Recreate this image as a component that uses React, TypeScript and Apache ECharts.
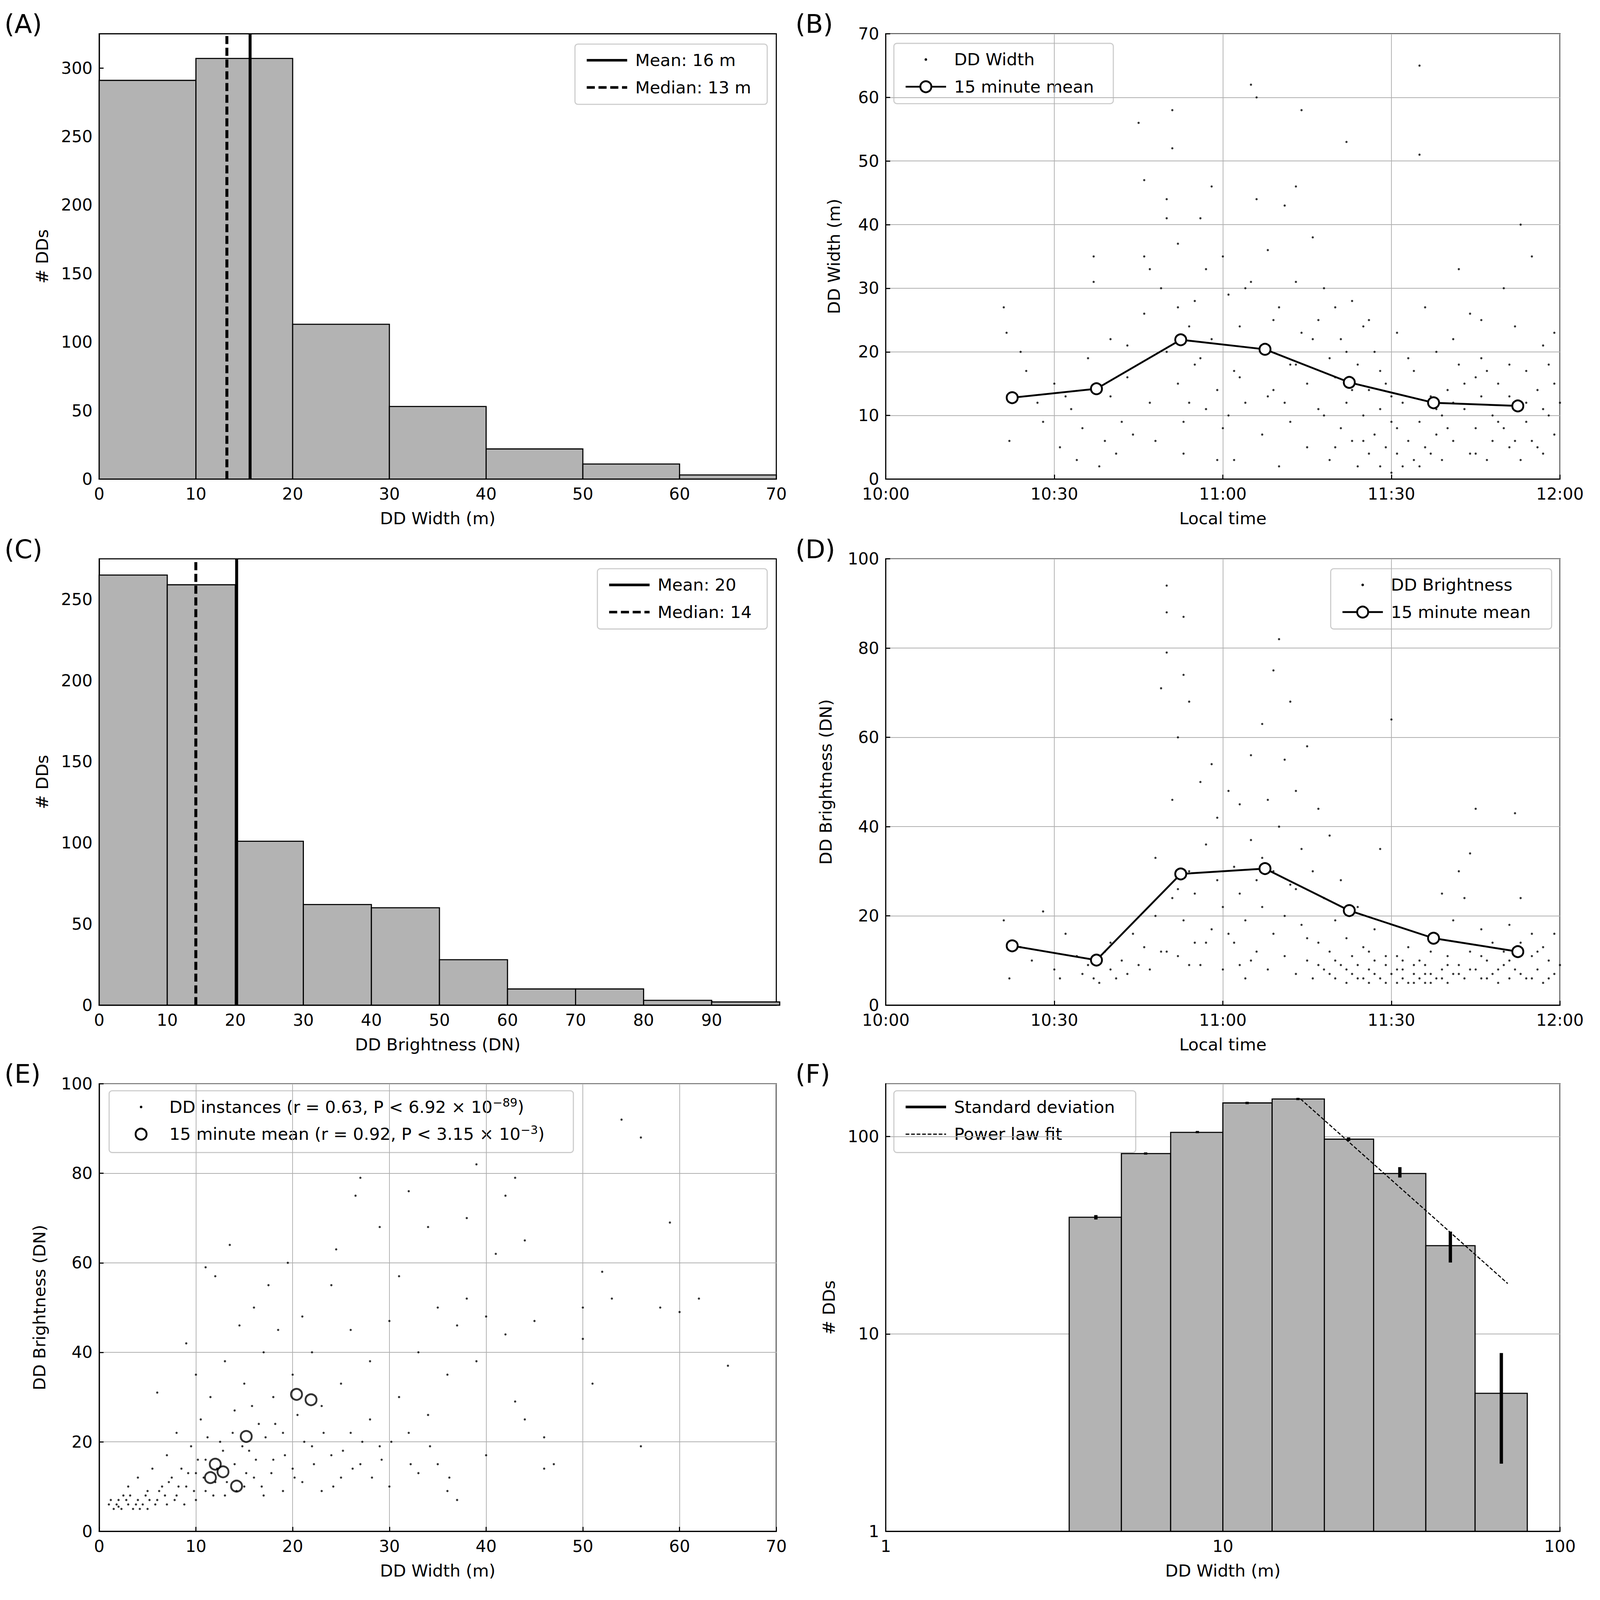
import React, { useEffect, useRef } from 'react';
import * as echarts from 'echarts';

// ---- data ----
const widthBins = [0, 10, 20, 30, 40, 50, 60, 70];
const widthCounts = [291, 307, 113, 53, 22, 11, 3];
const widthMean = 15.6;
const widthMedian = 13.2;

const brightBins = [0, 10, 20, 30, 40, 50, 60, 70, 80, 90, 100];
const brightCounts = [265, 259, 101, 62, 60, 28, 10, 10, 3, 2];
const brightMean = 20.2;
const brightMedian = 14.2;

const meanMinutes = [22.5, 37.5, 52.5, 67.5, 82.5, 97.5, 112.5];
const meanWidth = [12.8, 14.2, 21.9, 20.4, 15.2, 12.0, 11.5];
const meanBright = [13.3, 10.1, 29.4, 30.6, 21.2, 15.0, 12.0];

const widthPoints = [[21,27],[21.5,23],[22,6],[24,20],[25,17],[27,12],[28,9],[30,15],[31,5],[32,13],[33,11],[34,3],[35,8],[36,19],[37,35],[37,31],[38,2],[39,6],[40,13],[40,22],[41,4],[42,9],[43,16],[43,21],[44,7],[45,56],[46,47],[46,26],[47,33],[47,12],[48,6],[49,30],[50,44],[50,41],[50,20],[51,58],[51,52],[52,37],[52,15],[53,9],[53,4],[54,24],[55,28],[55,18],[56,41],[57,11],[57,33],[58,46],[58,22],[59,14],[60,35],[60,8],[61,29],[62,17],[62,3],[63,24],[64,12],[65,31],[65,62],[66,60],[66,44],[67,20],[67,7],[68,36],[69,14],[70,27],[70,2],[71,43],[72,18],[72,9],[73,46],[73,31],[74,58],[74,23],[75,15],[75,5],[76,38],[77,25],[77,11],[78,30],[79,19],[79,3],[80,27],[80,16],[81,8],[81,22],[82,12],[82,53],[83,6],[83,28],[84,18],[84,2],[85,10],[85,24],[86,14],[86,4],[87,20],[87,7],[88,11],[88,2],[89,15],[89,5],[90,9],[90,1],[91,23],[91,4],[92,12],[92,2],[93,6],[94,3],[94,17],[95,9],[95,51],[95,65],[96,5],[96,27],[97,13],[98,7],[98,20],[99,3],[99,10],[100,14],[101,6],[101,22],[102,18],[102,33],[103,11],[104,4],[104,26],[105,16],[105,8],[106,13],[106,19],[107,3],[108,10],[108,6],[109,15],[110,30],[110,8],[111,18],[111,5],[112,12],[112,24],[113,40],[113,3],[114,17],[114,9],[115,35],[115,6],[116,14],[117,21],[117,4],[118,10],[118,18],[119,7],[119,23],[120,12],[46,35],[52,27],[54,12],[56,19],[59,3],[61,10],[63,16],[64,30],[68,13],[69,25],[71,12],[73,18],[76,22],[78,10],[80,5],[82,20],[83,14],[85,6],[86,25],[88,17],[90,13],[91,8],[93,19],[95,2],[97,4],[98,11],[100,8],[101,12],[103,15],[105,4],[106,25],[107,17],[109,9],[111,13],[112,6],[114,12],[116,5],[117,11],[119,15]];

const brightPoints = [[21,19],[22,6],[24,13],[26,10],[28,21],[30,8],[31,6],[32,16],[34,11],[35,7],[36,9],[37,6],[38,5],[39,12],[40,8],[40,14],[41,6],[42,10],[43,7],[44,16],[45,9],[46,13],[47,8],[48,20],[48,33],[49,12],[49,71],[50,94],[50,88],[50,79],[51,46],[51,24],[52,11],[52,60],[53,74],[53,87],[53,19],[54,30],[54,68],[55,14],[55,25],[56,50],[56,9],[57,36],[58,54],[58,17],[59,42],[60,22],[60,8],[61,48],[62,14],[62,31],[63,9],[63,45],[64,19],[64,6],[65,37],[65,56],[66,28],[66,12],[67,63],[67,22],[68,46],[68,8],[69,75],[69,16],[70,82],[70,40],[71,55],[71,11],[72,68],[72,27],[73,48],[73,7],[74,35],[74,18],[75,58],[75,10],[76,30],[76,6],[77,44],[77,14],[78,24],[78,8],[79,38],[79,12],[80,19],[80,6],[81,28],[81,9],[82,15],[82,5],[83,11],[83,7],[84,22],[84,9],[85,6],[85,13],[86,8],[86,5],[87,10],[87,17],[88,6],[88,35],[89,9],[89,5],[90,7],[90,64],[91,11],[91,5],[92,6],[92,8],[93,5],[93,13],[94,7],[94,5],[95,10],[95,6],[96,5],[96,9],[97,7],[97,12],[98,6],[98,15],[99,8],[99,25],[100,11],[100,5],[101,19],[101,7],[102,30],[102,9],[103,24],[103,6],[104,12],[104,34],[105,8],[105,44],[106,17],[106,6],[107,10],[108,7],[108,14],[109,5],[110,9],[110,12],[111,18],[111,6],[112,43],[112,8],[113,14],[113,24],[114,6],[115,11],[115,16],[116,8],[117,13],[117,5],[118,10],[119,7],[119,16],[120,9],[50,12],[52,26],[54,9],[57,14],[59,28],[61,16],[63,25],[65,10],[67,33],[69,30],[71,20],[73,26],[75,15],[77,9],[79,7],[80,10],[82,8],[84,6],[86,12],[87,7],[89,11],[91,8],[92,10],[94,9],[96,7],[97,5],[99,6],[100,9],[102,7],[104,8],[106,11],[107,6],[109,8],[111,10],[113,7],[115,6],[116,12],[118,6]];

const instancePoints = [[1,6],[1.5,5],[2,7],[2,5.5],[2.5,8],[3,6],[3,10],[3.5,5],[4,7],[4,12],[4.5,6],[5,9],[5,5],[5.5,14],[6,7],[6,31],[6.5,10],[7,6],[7,17],[7.5,12],[8,8],[8,22],[8.5,14],[9,10],[9,42],[9.5,19],[10,7],[10,13],[10,35],[10.5,25],[11,9],[11,59],[11,16],[11.5,30],[12,11],[12,57],[12.5,20],[13,8],[13,38],[13.5,64],[14,15],[14,27],[14.5,46],[15,10],[15,33],[15.5,18],[16,50],[16,12],[16.5,24],[17,40],[17,8],[17.5,55],[18,16],[18,30],[18.5,45],[19,22],[19,9],[19.5,60],[20,35],[20,14],[20.5,26],[21,48],[21,11],[22,19],[22,40],[23,28],[23,9],[24,55],[24,17],[24.5,63],[25,33],[25,12],[26,45],[26,22],[26.5,75],[27,79],[27,15],[28,38],[28,25],[29,68],[29,19],[30,47],[30,10],[31,57],[31,30],[32,22],[32,76],[33,40],[33,13],[34,68],[34,26],[35,50],[35,15],[36,35],[36,9],[37,46],[37,7],[38,52],[38,70],[39,38],[39,82],[40,48],[40,17],[41,62],[42,75],[42,44],[43,79],[43,29],[44,65],[44,25],[45,47],[46,21],[46,14],[47,15],[50,43],[50,50],[51,33],[52,58],[53,52],[54,92],[56,19],[56,88],[58,50],[59,69],[60,49],[62,52],[65,37],[1.2,7],[1.8,6],[2.3,5],[2.8,7],[3.2,8],[3.8,6],[4.2,5],[4.8,8],[5.2,7],[5.8,6],[6.2,9],[6.8,8],[7.2,11],[7.8,7],[8.2,10],[8.8,6],[9.2,13],[9.8,9],[10.2,16],[10.8,12],[11.2,21],[11.8,8],[12.2,14],[12.8,18],[13.2,11],[13.8,22],[14.2,9],[14.8,19],[15.2,13],[15.8,28],[16.2,16],[16.8,10],[17.2,21],[17.8,13],[18.2,24],[19.2,17],[20.2,12],[21.2,20],[22.2,15],[23.2,22],[24.2,10],[25.2,18],[26.2,14],[27.2,20],[28.2,12],[29.2,16],[30.2,20],[32.2,15],[34.2,19],[36.2,12]];

const logBins = [3.5, 5, 7, 10, 14, 20, 28, 40, 56, 80];
const logCounts = [39, 82, 105, 148, 155, 97, 65, 28, 5];
const errCenters = [4.2, 5.9, 8.4, 11.8, 16.7, 23.6, 33.5, 47.3, 67];
const errLow = [38, 81, 104, 146, 153, 95, 62, 23, 2.2];
const errHigh = [40, 83, 106, 150, 157, 99, 70, 33, 8];
const fitLine = [[17, 155], [70, 18]];

const FONT = 'DejaVu Sans';

const gridsRef = [
  { left: 270, top: 92, width: 1843, height: 1212 },
  { left: 2411, top: 92, width: 1835, height: 1212 },
  { left: 270, top: 1521, width: 1843, height: 1215 },
  { left: 2411, top: 1521, width: 1835, height: 1215 },
  { left: 270, top: 2950, width: 1843, height: 1218 },
  { left: 2411, top: 2950, width: 1835, height: 1218 },
];

const pad = (n: number) => (n < 10 ? '0' + n : '' + n);
const timeFmt = (v: number) => `${10 + Math.floor(v / 60)}:${pad(v % 60)}`;

export default function App() {
  const ref = useRef<HTMLDivElement | null>(null);

  useEffect(() => {
    if (!ref.current) return;
    const el = ref.current;
    const s = Math.min(el.clientWidth / 4338, el.clientHeight / 4355);
    const chart = echarts.init(el, null, { renderer: 'svg' });

    const TICK = 45 * s;
    const NAME = 46 * s;
    const labelStyle = (extra: any = {}) => ({ fontFamily: FONT, fontSize: TICK, color: '#000', margin: 18 * s, ...extra });

    const axis = (idx: number, extra: any, name: string, showGrid: boolean, isX: boolean, gap?: number) => ({
      gridIndex: idx,
      type: 'value',
      name,
      nameLocation: 'middle',
      nameGap: (gap ?? (isX ? 84 : 118)) * s,
      nameTextStyle: { fontFamily: FONT, fontSize: NAME, color: '#000' },
      axisLine: { show: true, lineStyle: { color: '#000', width: 3 * s } },
      axisTick: { show: true, inside: true, length: 12 * s, lineStyle: { color: '#000', width: 3 * s } },
      axisLabel: labelStyle(),
      splitLine: { show: showGrid, lineStyle: { color: '#b0b0b0', width: 2 * s } },
      ...extra,
    });

    const histSeries = (idx: number, bins: number[], counts: number[]) => ({
      type: 'custom',
      xAxisIndex: idx,
      yAxisIndex: idx,
      data: counts.map((c, i) => [bins[i], bins[i + 1], c]),
      renderItem: (params: any, api: any) => {
        const p0 = api.coord([api.value(0), api.value(2)]);
        const base = api.coord([api.value(0), idx === 5 ? 1 : 0]);
        const p1 = api.coord([api.value(1), api.value(2)]);
        return {
          type: 'rect',
          shape: { x: p0[0], y: p0[1], width: p1[0] - p0[0], height: base[1] - p0[1] },
          style: { fill: '#b3b3b3', stroke: '#000', lineWidth: 3 * s },
        };
      },
      z: 2,
    });

    const vline = (idx: number, x: number, top: number, dashed: boolean) => ({
      type: 'line',
      xAxisIndex: idx,
      yAxisIndex: idx,
      data: [[x, 0], [x, top]],
      symbol: 'none',
      lineStyle: { color: '#000', width: 8 * s, type: dashed ? [22 * s, 10 * s] : 'solid' },
      z: 5,
    });

    // legend drawn in reference pixel units, scaled by s through the group
    const legendBox = (x: number, y: number, w: number, h: number, rows: any[]) => {
      const children: any[] = [
        { type: 'rect', shape: { x: 0, y: 0, width: w, height: h, r: 8 }, style: { fill: '#fff', stroke: '#cccccc', lineWidth: 3 } },
      ];
      rows.forEach((r, i) => {
        const cy = 44 + i * 74;
        if (r.kind === 'line' || r.kind === 'dash' || r.kind === 'thin') {
          children.push({
            type: 'line',
            shape: { x1: 32, y1: cy, x2: 142, y2: cy },
            style: {
              stroke: '#000',
              lineWidth: r.kind === 'thin' ? 3 : 7,
              lineDash: r.kind === 'dash' ? [22, 10] : r.kind === 'thin' ? [10, 5] : null,
            },
          });
        } else if (r.kind === 'lineCircle') {
          children.push({ type: 'line', shape: { x1: 32, y1: cy, x2: 142, y2: cy }, style: { stroke: '#000', lineWidth: 5 } });
          children.push({ type: 'circle', shape: { cx: 87, cy, r: 15 }, style: { fill: '#fff', stroke: '#000', lineWidth: 5 } });
        } else if (r.kind === 'dot') {
          children.push({ type: 'circle', shape: { cx: 87, cy, r: 3.5 }, style: { fill: '#000' } });
        } else if (r.kind === 'circle') {
          children.push({ type: 'circle', shape: { cx: 87, cy, r: 15 }, style: { fill: '#fff', stroke: '#000', lineWidth: 5 } });
        }
        children.push({
          type: 'text',
          x: 164,
          y: cy,
          style: { text: r.text, rich: r.rich, fontFamily: FONT, fontSize: 46, fill: '#000', verticalAlign: 'middle' },
        });
      });
      return { type: 'group', x: x * s, y: y * s, scaleX: s, scaleY: s, children, z: 100 };
    };

    const supRich = { sup: { fontFamily: FONT, fontSize: 32, padding: [0, 0, 24, 0], fill: '#000' } };

    const panelLabel = (t: string, x: number, y: number) => ({
      type: 'text',
      x: x * s,
      y: y * s,
      style: { text: t, fontFamily: FONT, fontSize: 70 * s, fill: '#000' },
    });

    const xAxes = [
      axis(0, { min: 0, max: 70, interval: 10 }, 'DD Width (m)', false, true),
      axis(1, { min: 0, max: 120, interval: 30, axisLabel: labelStyle({ formatter: timeFmt }) }, 'Local time', true, true),
      axis(2, { min: 0, max: 99.5, interval: 10, axisLabel: labelStyle({ showMaxLabel: false }) }, 'DD Brightness (DN)', false, true),
      axis(3, { min: 0, max: 120, interval: 30, axisLabel: labelStyle({ formatter: timeFmt }) }, 'Local time', true, true),
      axis(4, { min: 0, max: 70, interval: 10 }, 'DD Width (m)', true, true),
      axis(5, { type: 'log', logBase: 10, min: 1, max: 100 }, 'DD Width (m)', true, true),
    ];
    const yAxes = [
      axis(0, { min: 0, max: 325, interval: 50, axisLabel: labelStyle({ showMaxLabel: false }) }, '# DDs', false, false, 132),
      axis(1, { min: 0, max: 70, interval: 10 }, 'DD Width (m)', true, false, 118),
      axis(2, { min: 0, max: 275, interval: 50, axisLabel: labelStyle({ showMaxLabel: false }) }, '# DDs', false, false, 132),
      axis(3, { min: 0, max: 100, interval: 20 }, 'DD Brightness (DN)', true, false, 140),
      axis(4, { min: 0, max: 100, interval: 20 }, 'DD Brightness (DN)', true, false, 140),
      axis(5, { type: 'log', logBase: 10, min: 1, max: 185, axisLabel: labelStyle({ showMaxLabel: false }) }, '# DDs', true, false, 132),
    ];

    const dot = { symbol: 'circle', symbolSize: 6 * s, itemStyle: { color: '#000' } };
    const meanStyle = {
      symbol: 'circle',
      symbolSize: 30 * s,
      itemStyle: { color: '#fff', borderColor: '#000', borderWidth: 5 * s },
      lineStyle: { color: '#000', width: 5 * s },
    };

    chart.setOption({
      animation: false,
      backgroundColor: '#fff',
      grid: gridsRef.map((g) => ({
        left: g.left * s,
        top: g.top * s,
        width: g.width * s,
        height: g.height * s,
        show: true,
        borderColor: '#000',
        borderWidth: 3 * s,
        backgroundColor: 'transparent',
      })),
      xAxis: xAxes,
      yAxis: yAxes,
      series: [
        histSeries(0, widthBins, widthCounts),
        vline(0, widthMean, 325, false),
        vline(0, widthMedian, 325, true),
        { type: 'scatter', xAxisIndex: 1, yAxisIndex: 1, data: widthPoints, ...dot },
        { type: 'line', xAxisIndex: 1, yAxisIndex: 1, data: meanMinutes.map((m, i) => [m, meanWidth[i]]), ...meanStyle, z: 5 },
        histSeries(2, brightBins, brightCounts),
        vline(2, brightMean, 275, false),
        vline(2, brightMedian, 275, true),
        { type: 'scatter', xAxisIndex: 3, yAxisIndex: 3, data: brightPoints, ...dot },
        { type: 'line', xAxisIndex: 3, yAxisIndex: 3, data: meanMinutes.map((m, i) => [m, meanBright[i]]), ...meanStyle, z: 5 },
        { type: 'scatter', xAxisIndex: 4, yAxisIndex: 4, data: instancePoints, ...dot },
        {
          type: 'scatter',
          xAxisIndex: 4,
          yAxisIndex: 4,
          data: meanWidth.map((w, i) => [w, meanBright[i]]),
          symbol: 'circle',
          symbolSize: 30 * s,
          itemStyle: { color: 'rgba(0,0,0,0)', borderColor: '#000', borderWidth: 5 * s },
          z: 5,
        },
        histSeries(5, logBins, logCounts),
        {
          type: 'custom',
          xAxisIndex: 5,
          yAxisIndex: 5,
          data: errCenters.map((c, i) => [c, errLow[i], errHigh[i]]),
          renderItem: (params: any, api: any) => {
            const a = api.coord([api.value(0), api.value(1)]);
            const b = api.coord([api.value(0), api.value(2)]);
            return { type: 'line', shape: { x1: a[0], y1: a[1], x2: b[0], y2: Math.min(b[1], a[1] - 6 * s) }, style: { stroke: '#000', lineWidth: 9 * s } };
          },
          z: 6,
        },
        { type: 'line', xAxisIndex: 5, yAxisIndex: 5, data: fitLine, symbol: 'none', lineStyle: { color: '#000', width: 3 * s, type: [10 * s, 5 * s] }, z: 7 },
      ],
      graphic: [
        panelLabel('(A)', 12, 30),
        panelLabel('(B)', 2165, 30),
        panelLabel('(C)', 12, 1460),
        panelLabel('(D)', 2165, 1460),
        panelLabel('(E)', 12, 2888),
        panelLabel('(F)', 2165, 2888),
        legendBox(1565, 120, 523, 164, [
          { kind: 'line', text: 'Mean: 16 m' },
          { kind: 'dash', text: 'Median: 13 m' },
        ]),
        legendBox(2433, 118, 597, 164, [
          { kind: 'dot', text: 'DD Width' },
          { kind: 'lineCircle', text: '15 minute mean' },
        ]),
        legendBox(1626, 1548, 462, 164, [
          { kind: 'line', text: 'Mean: 20' },
          { kind: 'dash', text: 'Median: 14' },
        ]),
        legendBox(3622, 1548, 601, 164, [
          { kind: 'dot', text: 'DD Brightness' },
          { kind: 'lineCircle', text: '15 minute mean' },
        ]),
        legendBox(297, 2969, 1263, 168, [
          { kind: 'dot', text: 'DD instances (r = 0.63, P < 6.92 × 10{sup|−89})', rich: supRich },
          { kind: 'circle', text: '15 minute mean (r = 0.92, P < 3.15 × 10{sup|−3})', rich: supRich },
        ]),
        legendBox(2433, 2969, 658, 168, [
          { kind: 'line', text: 'Standard deviation' },
          { kind: 'thin', text: 'Power law fit' },
        ]),
      ],
    });

    return () => chart.dispose();
  }, []);

  return <div ref={ref} style={{ position: 'absolute', left: 0, top: 0, width: '100vw', height: '100vh' }} />;
}
